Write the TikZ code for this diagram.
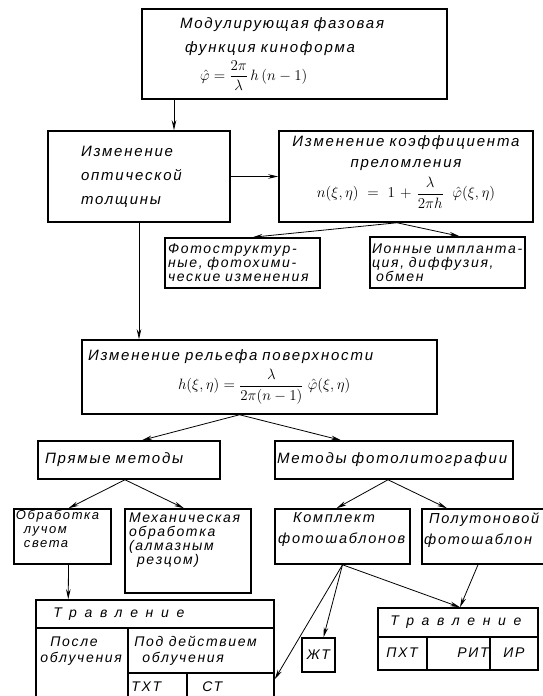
\RequirePackage{fix-cm}
\documentclass[tikz,border=0pt]{standalone}
\usepackage{fontspec}
\newfontfamily\gost{Liberation Sans}[LetterSpace=12]
\usetikzlibrary{arrows.meta}
\newcommand\razr[1]{{\addfontfeature{LetterSpace=55}#1}}
\newcommand\otstup[1]{\rule[-#1]{0pt}{0pt}}

\tikzset{every picture/.style={line width=0.75pt}}
\tikzset{
	blok/.style={draw,line width=1.5pt,inner ysep=0pt,align=left,font=\gost\itshape\fontsize{15}{24}\selectfont},
	malyj/.style={blok,font=\gost\itshape\fontsize{14}{14}\selectfont},
	tekst/.style={inner sep=0pt,align=left,font=\gost\itshape\fontsize{14}{16}\selectfont},
	setka/.style={line width=1.5pt},
	arr/.style={-{Stealth[length=10pt,width=4.5pt]},line width=0.8pt}
}

\begin{document}
\begin{tikzpicture}[x=1pt,y=-1pt]
			\useasboundingbox (0,0) rectangle (543,696);
			\clip (0,0) rectangle (543,696);

			\node [blok,text width=229pt,inner xsep=38pt,minimum height=90pt] (modul) at (294.5,54) {Модулирующая~фазовая\\\hspace*{5pt}функция~киноформа\\[4pt]\hspace*{20pt}$\displaystyle\hat\varphi=\frac{2\pi}{\lambda}\,h\,(n-1)$};
			\node [blok,text width=116pt,inner xsep=33pt,minimum height=91pt] (optic) at (139,176.5) {Изменение\\оптической\\толщины};
			\node [blok,align=center,text width=244pt,inner xsep=5pt,minimum height=91pt,font=\gost\itshape\fontsize{15}{21}\selectfont] (koef) at (406,176.5) {Изменение~коэффициента\\преломления\\[6pt]$\displaystyle n(\xi,\eta)=1+\frac{\lambda}{2\pi h}\;\hat\varphi(\xi,\eta)$\otstup{20pt}};
			\node [malyj,text width=149pt,inner xsep=3pt,minimum height=50pt] (fotostr) at (242.5,263) {Фотоструктур-\\ные,~фотохими-\\ческие~изменения};
			\node [malyj,text width=151pt,inner xsep=2pt,minimum height=51pt] (ion) at (447.5,262.5) {Ионные~импланта-\\ция,~диффузия,\\\hspace*{4pt}обмен};
			\node [blok,text width=343pt,inner xsep=6pt,minimum height=74pt] (relief) at (259.5,377) {Изменение~рельефа~поверхности\\[5pt]\hspace*{90pt}$\displaystyle h(\xi,\eta)=\frac{\lambda}{2\pi(n-1)}\;\hat\varphi(\xi,\eta)$\otstup{14pt}};
			\node [blok,text width=168pt,inner xsep=7pt,minimum height=38pt] (pryam) at (129,460) {Прямые~методы};
			\node [blok,text width=234pt,inner xsep=2pt,minimum height=38pt] (metody) at (394,460) {Методы~фотолитографии};
			\node [malyj,text width=93pt,inner xsep=2pt,minimum height=55pt,font=\gost\itshape\fontsize{13}{14}\selectfont] (luch) at (62.5,536.5) {Обработка\\\hspace*{8pt}лучом\\\hspace*{8pt}света\otstup{16pt}};
			\node [malyj,text width=118pt,inner xsep=4pt,minimum height=84pt] (mekh) at (188,551) {Механическая\\обработка\\(алмазным\\\hspace*{8pt}резцом)\otstup{24pt}};
			\node [malyj,text width=129pt,inner xsep=3pt,minimum height=55pt,font=\gost\itshape\fontsize{14.5}{21}\selectfont] (komplekt) at (342.5,536.5) {\hspace*{15pt}Комплект\\фотошаблонов\otstup{16pt}};
			\node [malyj,text width=136pt,inner xsep=2pt,minimum height=55pt,font=\gost\itshape\fontsize{14.5}{21}\selectfont] (polut) at (492,536.5) {\hspace*{5pt}Полутоновой\\фотошаблон\otstup{16pt}};
			\node [malyj,align=center,inner sep=0pt,minimum width=33pt,minimum height=34pt] (zht) at (318.5,655) {ЖТ};
			\node [blok,minimum width=238pt,minimum height=130pt] (t1) at (155,665) {};
			\node [blok,minimum width=160pt,minimum height=62pt] (t2) at (458,639) {};

			\draw [setka] (36,628) -- (274,628);
			\draw [setka] (128,628) -- (128,730);
			\draw [setka] (128,673) -- (274,673);
			\draw [setka] (187,673) -- (187,730);
			\draw [setka] (378,637) -- (538,637);
			\draw [setka] (427,637) -- (427,670);
			\draw [setka] (490,637) -- (490,670);

			\node [tekst,anchor=west] (t1trav) at (53,614) {\razr{Травление}};
			\node [tekst,anchor=west] (t1posle) at (40,651) {\hspace*{10pt}После\\облучения};
			\node [tekst,anchor=west] (t1pod) at (134,651) {Под~действием\\\hspace*{8pt}облучения};
			\node [tekst,anchor=west] (t1txt) at (131,687) {ТХТ};
			\node [tekst,anchor=west] (t1st) at (202,687) {СТ};
			\node [tekst] (t2trav) at (456,622.5) {\razr{Травление}};
			\node [tekst,anchor=west] (t2pxt) at (386,653) {ПХТ};
			\node [tekst,anchor=west] (t2rit) at (457,653) {РИТ};
			\node [tekst,anchor=west] (t2ir) at (503,653) {ИР};

			\draw [arr] ([xshift=-120.5pt]modul.south) -- ([xshift=35pt]optic.north);
			\draw [arr] (optic.east) -- (koef.west);
			\draw [arr] ([xshift=-9pt]koef.south) -- ([xshift=10pt]fotostr.north);
			\draw [arr] ([xshift=-9pt]koef.south) -- ([xshift=12pt]ion.north);
			\draw [arr] (optic.south) -- (optic.south |- relief.north);
			\draw [arr] ([xshift=-20pt]relief.south) -- ([xshift=13pt]pryam.north);
			\draw [arr] ([xshift=-20pt]relief.south) -- ([xshift=-53pt]metody.north);
			\draw [arr] ([xshift=-4pt]pryam.south) -- ([xshift=6pt]luch.north);
			\draw [arr] ([xshift=-4pt]pryam.south) -- ([xshift=-4pt]mekh.north);
			\draw [arr] ([xshift=-6pt]metody.south) -- ([xshift=-6pt]komplekt.north);
			\draw [arr] ([xshift=-6pt]metody.south) -- ([xshift=-45pt]polut.north);
			\draw [arr] ([xshift=6pt]luch.south) -- ([xshift=33pt]t1.north west);
			\draw [arr] (komplekt.south) -- ([yshift=-80pt]t1.north east);
			\draw [arr] (komplekt.south) -- ([xshift=5pt]zht.north);
			\draw [arr] (komplekt.south) -- ([xshift=2pt]t2.north);
			\draw [arr] ([xshift=-14pt]polut.south) -- ([xshift=2pt]t2.north);
		\end{tikzpicture}
\end{document}
